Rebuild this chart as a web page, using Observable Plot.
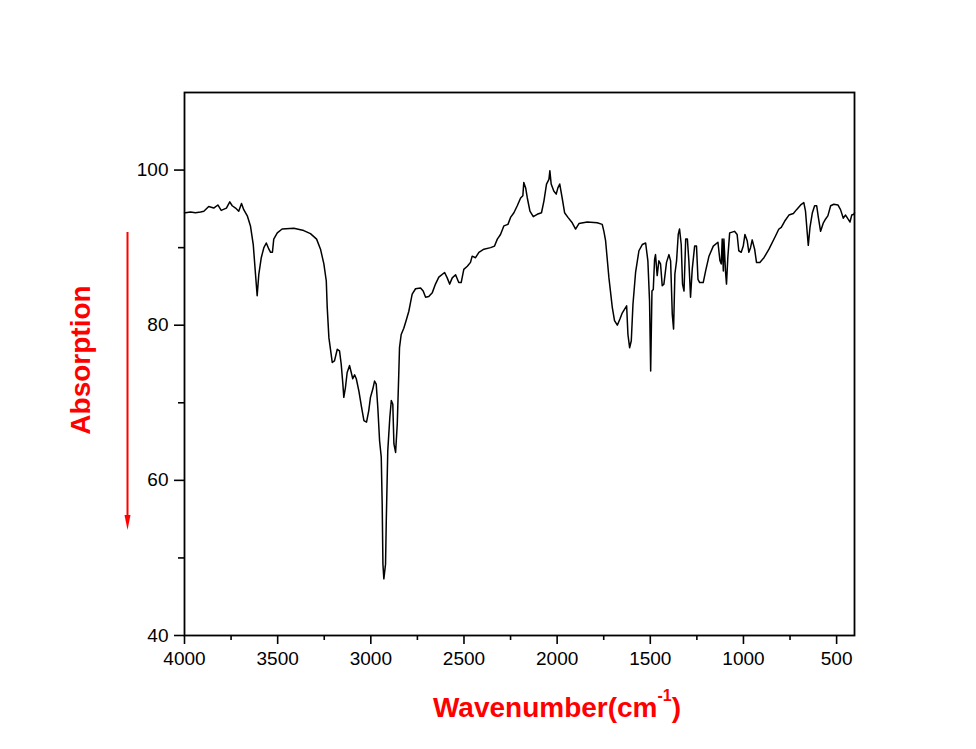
<!DOCTYPE html>
<html>
<head>
<meta charset="utf-8">
<script src="https://cdn.jsdelivr.net/npm/d3@7"></script>
<script src="https://cdn.jsdelivr.net/npm/@observablehq/plot@0.6"></script>
<style>
  html, body { margin: 0; padding: 0; background: #ffffff; }
  svg { display: block; }
</style>
</head>
<body>
<div id="chart"></div>
<script>
// Wavenumber (cm-1) and transmittance (%)
const wavenumber = [
  4000,
  3995,3968,3941,3914,3896,3870,3843,3821,3803,3775,
  3757,3744,3726,3709,3694,3682,3663,3646,3631,3619,
  3610,3601,3588,3574,3561,3547,3538,3528,3521,3502,
  3476,3413,3360,3324,3291,3270,3252,3239,3234,3225,
  3207,3195,3180,3168,3159,3150,3145,3136,3127,3114,
  3105,3097,3087,3078,3064,3051,3037,3023,3011,3002,
  2989,2980,2971,2962,2953,2944,2939,2935,2930,2921,
  2917,2909,2898,2890,2882,2876,2867,2858,2850,2846,
  2837,2823,2808,2796,2787,2778,2760,2733,2719,2706,
  2689,2670,2653,2635,2604,2590,2577,2563,2545,2528,
  2515,2501,2482,2465,2456,2438,2420,2393,2357,2336,
  2321,2304,2286,2264,2250,2232,2214,2196,2184,2179,
  2169,2160,2146,2128,2107,2084,2071,2057,2044,2039,
  2032,2018,2005,1996,1986,1973,1960,1942,1919,1901,
  1883,1838,1785,1758,1749,1740,1722,1704,1692,1677,
  1663,1650,1627,1620,1611,1602,1593,1579,1561,1543,
  1525,1513,1504,1498,1491,1484,1477,1472,1463,1454,
  1445,1436,1427,1413,1400,1391,1382,1375,1368,1359,
  1350,1343,1334,1327,1319,1310,1301,1293,1284,1275,
  1262,1252,1244,1235,1216,1203,1185,1162,1137,1126,
  1119,1114,1108,1105,1096,1091,1084,1074,1048,1034,
  1025,1012,1001,992,980,971,962,953,940,930,
  912,890,863,828,810,797,779,756,732,715,
  693,676,667,657,652,643,630,618,607,598,
  586,571,559,547,532,515,493,479,464,452,
  439,428,419,407,404
];
const transmittance = [
  94.5,
  94.5,94.6,94.5,94.6,94.7,95.3,95.1,95.5,94.8,95.1,
  95.9,95.4,95.1,94.7,95.7,94.9,94.1,92.8,90.4,86.6,
  83.8,86.6,88.7,90.0,90.6,89.8,89.4,89.4,91.1,91.9,
  92.4,92.5,92.2,91.8,91.1,89.8,87.9,85.7,82.3,78.4,
  75.2,75.4,76.9,76.7,75.0,72.4,70.7,72.0,73.9,74.8,
  73.9,73.1,73.6,73.1,71.5,69.6,67.7,67.5,69.0,70.7,
  71.8,72.8,72.4,69.2,65.1,63.0,57.0,49.2,47.3,49.2,
  54.8,63.8,68.1,70.3,69.8,64.7,63.6,67.3,73.7,77.1,
  78.8,79.6,80.8,81.8,82.9,84.0,84.7,84.8,84.4,83.6,
  83.7,84.2,85.3,86.2,86.8,86.1,85.3,86.1,86.5,85.5,
  85.5,87.2,87.6,88.1,88.9,88.7,89.4,89.8,90.0,90.2,
  91.1,91.7,92.8,93.0,93.9,94.5,95.4,96.4,96.7,98.4,
  97.7,96.4,94.7,94.0,94.3,94.5,96.0,98.2,98.8,99.9,
  98.2,97.3,96.9,97.7,98.2,96.4,94.5,93.9,93.2,92.4,
  93.1,93.3,93.2,93.0,92.1,90.9,86.1,82.3,80.6,80.0,
  80.8,81.6,82.5,78.8,77.1,78.0,82.7,86.8,89.6,90.4,
  90.6,88.3,83.1,74.1,84.4,84.6,88.5,89.1,86.4,88.3,
  87.9,85.1,85.3,88.1,89.1,88.3,81.4,79.5,86.6,88.3,
  91.7,92.4,90.4,85.3,84.4,91.1,91.1,88.3,83.6,87.2,
  90.2,90.2,85.9,85.5,85.5,87.0,88.9,90.2,90.7,88.3,
  87.9,91.1,87.0,91.1,86.8,85.3,88.7,91.9,92.1,91.7,
  89.6,89.4,90.2,91.7,90.9,89.4,90.0,91.0,89.8,88.1,
  88.1,88.7,89.8,91.5,92.4,92.6,93.4,94.2,94.4,94.9,
  95.5,95.8,94.7,91.7,90.3,92.6,94.5,95.4,95.4,93.9,
  92.1,93.2,93.7,94.1,95.4,95.6,95.5,94.9,93.8,94.2,
  93.7,93.3,94.2,94.3,94.5
];
const xMajorTicks = [4000, 3500, 3000, 2500, 2000, 1500, 1000, 500];
const xMinorTicks = [3750, 3250, 2750, 2250, 1750, 1250, 750];
const yMajorTicks = [40, 60, 80, 100];
const yMinorTicks = [50, 70, 90];
const xTitle = "Wavenumber(cm";
const xTitleSup = "-1";
const xTitleEnd = ")";
const yTitle = "Absorption";

const spectrum = wavenumber.map((w, i) => ({w, t: transmittance[i]}));

const chart = Plot.plot({
  width: 976,
  height: 749,
  marginLeft: 184,
  marginRight: 122,
  marginTop: 92,
  marginBottom: 114,
  style: {fontFamily: "'Liberation Sans', Arial, sans-serif", fontSize: "19px", background: "#ffffff", color: "#000000"},
  x: {domain: [4000, 404]},
  y: {domain: [40, 110]},
  marks: [
    Plot.axisX(xMajorTicks, {tickSize: 9, tickPadding: 7, tickFormat: d => String(d), label: null, strokeWidth: 1.6, fontSize: 19}),
    Plot.axisX(xMinorTicks, {tickSize: 5, tickFormat: () => "", label: null, strokeWidth: 1.6}),
    Plot.axisY(yMajorTicks, {tickSize: 10, tickPadding: 6, label: null, strokeWidth: 1.6, fontSize: 19}),
    Plot.axisY(yMinorTicks, {tickSize: 6, tickFormat: () => "", label: null, strokeWidth: 1.6}),
    Plot.line(spectrum, {x: "w", y: "t", stroke: "#000000", strokeWidth: 1.5}),
    Plot.frame({stroke: "#000000", strokeWidth: 1.8})
  ]
});

// Axis titles and the red "absorption" arrow
const svg = d3.select(chart);
const red = "#ff0000";
const xt = svg.append("text")
  .attr("x", 557).attr("y", 717)
  .attr("text-anchor", "middle")
  .attr("fill", red)
  .style("font-family", "'Liberation Sans', Arial, sans-serif")
  .style("font-weight", "bold")
  .style("font-size", "28px");
xt.append("tspan").text(xTitle);
xt.append("tspan").attr("dy", -16).style("font-size", "16px").text(xTitleSup);
xt.append("tspan").attr("dy", 16).text(xTitleEnd);

svg.append("text")
  .attr("transform", "translate(90,360) rotate(-90)")
  .attr("text-anchor", "middle")
  .attr("fill", red)
  .style("font-family", "'Liberation Sans', Arial, sans-serif")
  .style("font-weight", "bold")
  .style("font-size", "28px")
  .text(yTitle);

svg.append("line")
  .attr("x1", 127.5).attr("x2", 127.5)
  .attr("y1", 232).attr("y2", 518)
  .attr("stroke", red).attr("stroke-width", 2);
svg.append("path")
  .attr("d", "M124.5,515L130.5,515L127.5,530Z")
  .attr("fill", red);

document.getElementById("chart").appendChild(chart);
</script>
</body>
</html>
